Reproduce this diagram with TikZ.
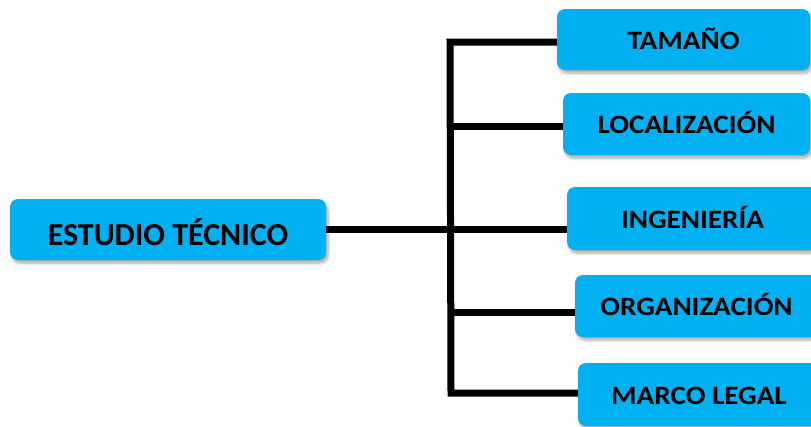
\documentclass[tikz,border=0pt]{standalone}
\usepackage{fontspec}
\setmainfont{Carlito}
\newfontfamily\rfont[FakeStretch=1.1]{Carlito}
\usetikzlibrary{shadows.blur}
\definecolor{boxblue}{RGB}{0,176,240}
\begin{document}
\begin{tikzpicture}[x=1pt,y=-1pt,
  box/.style={fill=boxblue, rounded corners=8pt, inner sep=0pt, text depth=0pt,
    blur shadow={shadow xshift=2pt, shadow yshift=-3pt, shadow blur steps=6, shadow opacity=35, shadow blur radius=3pt}},
  lbox/.style={box, font=\fontsize{32}{36}\selectfont\bfseries, text height=31.2pt},
  rbox/.style={box, font=\rfont\fontsize{26.5}{30}\selectfont\bfseries, text height=19.8pt},
  conn/.style={line width=7pt, draw=black, line join=miter}]
\useasboundingbox (0,0) rectangle (811,426);
\clip (0,0) rectangle (811,426);
\node[lbox, minimum width=316pt, minimum height=61pt] (est) at (168,229.5) {ESTUDIO TÉCNICO};
\node[rbox, minimum width=253pt, minimum height=61pt] (tam) at (683.5,39.5) {TAMAÑO};
\node[rbox, minimum width=247pt, minimum height=62pt] (loc) at (686.5,124) {LOCALIZACIÓN};
\node[rbox, minimum width=251pt, minimum height=63pt] (ing) at (692.5,218.5) {INGENIERÍA};
\node[rbox, minimum width=243pt, minimum height=62pt] (org) at (696.5,306) {ORGANIZACIÓN};
\node[rbox, minimum width=242pt, minimum height=63pt] (mar) at (699,394.5) {MARCO LEGAL};
\coordinate (t1) at (450,42);
\coordinate (t2) at (450,126);
\coordinate (t4) at (451,312);
\coordinate (t5) at (451,393);
\draw[conn] (tam.west |- t1) -- (t1) -- (t5) -- (mar.west |- t5);
\draw[conn] (t2) -- (t2 -| loc.west);
\draw[conn] (est.east) -- (est.east -| ing.west);
\draw[conn] (t4) -- (t4 -| org.west);
\end{tikzpicture}
\end{document}
